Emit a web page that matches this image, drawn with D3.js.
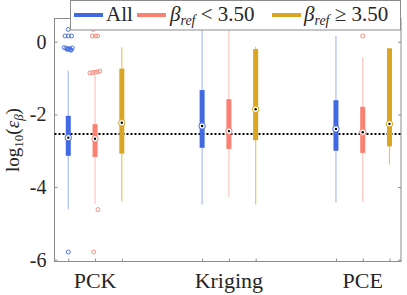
<!DOCTYPE html>
<html>
<head>
<meta charset="utf-8">
<script src="https://cdn.jsdelivr.net/npm/d3@7"></script>
<style>
  body { margin: 0; background: #fff; }
  svg { display: block; }
</style>
</head>
<body>
<div id="chart"></div>
<script>
// --- data (log10 of relative error) ---
var categories = ['PCK', 'Kriging', 'PCE'];
var seriesNames = ['All', 'lt', 'ge'];
var seriesColors = ['#4169E1', '#FA8072', '#DAA520'];
var yTicks = [0, -2, -4, -6];
var refLine = -2.54;

// per series, one value per category
var whiskerHigh = [[-0.80, 0.34, 0.16], [-0.92, 0.34, -0.43], [-0.15, -0.14, -0.18]];
var boxTop      = [[-2.04, -1.33, -1.61], [-2.27, -1.58, -1.79], [-0.74, -0.20, -0.18]];
var medians     = [[-2.64, -2.32, -2.40], [-2.67, -2.46, -2.49], [-2.23, -1.86, -2.26]];
var boxBottom   = [[-3.14, -2.92, -3.00], [-3.17, -2.95, -3.06], [-3.08, -2.71, -2.88]];
var whiskerLow  = [[-4.61, -4.48, -4.42], [-4.46, -4.27, -4.42], [-4.39, -4.48, -3.38]];

// outliers: [series, category, value, jitter]
var outliers = [
    [0, 0, 0.34, 0], [0, 0, 0.16, -0.12], [0, 0, 0.16, 0], [0, 0, 0.16, 0.12],
    [0, 0, -0.16, -0.15], [0, 0, -0.18, -0.08], [0, 0, -0.20, 0.0], [0, 0, -0.22, 0.08],
    [0, 0, -0.17, 0.15], [0, 0, -0.21, -0.04], [0, 0, -0.19, 0.05], [0, 0, -0.23, 0.11],
    [0, 0, -5.79, 0],
    [1, 0, 0.34, -0.07], [1, 0, 0.16, -0.1], [1, 0, 0.16, 0.02], [1, 0, 0.16, 0.1],
    [1, 0, -0.86, -0.19], [1, 0, -0.85, -0.09], [1, 0, -0.84, 0.0], [1, 0, -0.83, 0.09],
    [1, 0, -0.81, 0.18], [1, 0, -4.62, 0.11], [1, 0, -5.79, -0.05],
    [1, 2, 0.16, 0]
];

var totalWidth = 407, totalHeight = 295;
var axL = 54.5, axR = 401, axT = 18.5, axB = 261.5;
var serif = "'Liberation Serif', 'DejaVu Serif', serif";

var svg = d3.select('#chart').append('svg')
    .attr('width', totalWidth)
    .attr('height', totalHeight)
    .attr('font-family', serif);

// position of series s in category c: 1,2,3 / 6,7,8 / 11,12,13
function pos(c, s) { return c * 5 + s + 1; }

var xScale = d3.scaleLinear().domain([0.485, 13.43]).range([axL, axR]);
var yScale = d3.scaleLinear().domain([-6.05, 0.64]).range([axB, axT]);

var axisColor = '#8c8c8c';

// axes box
svg.append('rect')
    .attr('x', axL).attr('y', axT)
    .attr('width', axR - axL).attr('height', axB - axT)
    .attr('fill', 'none').attr('stroke', axisColor).attr('stroke-width', 1);

// y axis (left) and mirrored ticks on right
var yAxis = d3.axisLeft(yScale).tickValues(yTicks).tickSizeInner(-3).tickSizeOuter(0)
    .tickPadding(8);
var yAxisGroup = svg.append('g').attr('transform', 'translate(' + axL + ',0)').call(yAxis);
yAxisGroup.attr('font-family', serif);
yAxisGroup.select('.domain').remove();
yAxisGroup.selectAll('line').attr('stroke', axisColor);
yAxisGroup.selectAll('text').attr('font-size', 20).attr('fill', '#262626')
    .attr('x', -8).text(function(d) { return d === 0 ? '0' : '-' + Math.abs(d); });

var yAxisR = svg.append('g').attr('transform', 'translate(' + axR + ',0)')
    .call(d3.axisRight(yScale).tickValues(yTicks).tickSizeInner(-3).tickSizeOuter(0).tickFormat(''));
yAxisR.select('.domain').remove();
yAxisR.selectAll('line').attr('stroke', axisColor);

// x ticks at every box position
var tickPositions = [];
categories.forEach(function(c, ci) {
    seriesNames.forEach(function(s, si) { tickPositions.push(pos(ci, si)); });
});
var xAxisGroup = svg.append('g').attr('transform', 'translate(0,' + axB + ')')
    .call(d3.axisBottom(xScale).tickValues(tickPositions).tickSizeInner(-3).tickSizeOuter(0).tickFormat(''));
xAxisGroup.select('.domain').remove();
xAxisGroup.selectAll('line').attr('stroke', axisColor);

// category labels
svg.append('g').selectAll('text')
    .data(categories)
    .enter()
    .append('text')
    .attr('x', function(d, i) { return xScale(pos(i, 1)); })
    .attr('y', 288)
    .attr('text-anchor', 'middle')
    .attr('font-size', 22)
    .attr('fill', '#262626')
    .text(function(d) { return d; });

// reference dotted line
svg.append('line')
    .attr('x1', axL).attr('x2', axR)
    .attr('y1', yScale(refLine)).attr('y2', yScale(refLine))
    .attr('stroke', '#000').attr('stroke-width', 2).attr('stroke-dasharray', '2,2');

// boxes
var boxes = [];
seriesNames.forEach(function(s, si) {
    categories.forEach(function(c, ci) {
        boxes.push({
            s: si, c: ci,
            wl: whiskerLow[si][ci], q1: boxBottom[si][ci], med: medians[si][ci],
            q3: boxTop[si][ci], wh: whiskerHigh[si][ci]
        });
    });
});

var boxGroup = svg.append('g');
// whiskers
boxGroup.selectAll('line.whisker')
    .data(boxes)
    .enter()
    .append('line')
    .attr('class', 'whisker')
    .attr('x1', d => xScale(pos(d.c, d.s)))
    .attr('x2', d => xScale(pos(d.c, d.s)))
    .attr('y1', d => yScale(d.wl))
    .attr('y2', d => yScale(d.wh))
    .attr('stroke', d => seriesColors[d.s])
    .attr('stroke-opacity', d => d.s === 2 ? 0.65 : 0.45)
    .attr('stroke-width', 1.2);

// boxes
boxGroup.selectAll('rect.box')
    .data(boxes)
    .enter()
    .append('rect')
    .attr('class', 'box')
    .attr('x', d => xScale(pos(d.c, d.s)) - 2.5)
    .attr('width', 5)
    .attr('y', d => yScale(d.q3))
    .attr('height', d => yScale(d.q1) - yScale(d.q3))
    .attr('fill', d => seriesColors[d.s]);

// outliers
boxGroup.selectAll('circle.outlier')
    .data(outliers)
    .enter()
    .append('circle')
    .attr('class', 'outlier')
    .attr('cx', d => xScale(pos(d[1], d[0]) + d[3]))
    .attr('cy', d => yScale(d[2]))
    .attr('r', 2)
    .attr('fill', 'none')
    .attr('stroke', d => seriesColors[d[0]])
    .attr('stroke-width', 0.9);

// median markers
boxGroup.selectAll('circle.median')
    .data(boxes)
    .enter()
    .append('circle')
    .attr('class', 'median')
    .attr('cx', d => xScale(pos(d.c, d.s)))
    .attr('cy', d => yScale(d.med))
    .attr('r', 3.2)
    .attr('fill', '#fff')
    .attr('stroke', d => seriesColors[d.s])
    .attr('stroke-width', 1);
boxGroup.selectAll('circle.mdot')
    .data(boxes)
    .enter()
    .append('circle')
    .attr('class', 'mdot')
    .attr('cx', d => xScale(pos(d.c, d.s)))
    .attr('cy', d => yScale(d.med))
    .attr('r', 1.2)
    .attr('fill', '#000');

// y label
var yLabel = svg.append('text')
    .attr('transform', 'translate(18.5,' + ((axT + axB) / 2) + ') rotate(-90)')
    .attr('text-anchor', 'middle')
    .attr('fill', '#262626')
    .attr('font-size', 19);
yLabel.append('tspan').text('log');
yLabel.append('tspan').attr('font-size', 13).attr('dy', 4).text('10');
yLabel.append('tspan').attr('dy', -4).text('(');
yLabel.append('tspan').attr('font-style', 'italic').text('ε');
yLabel.append('tspan').attr('font-style', 'italic').attr('font-size', 13).attr('dy', 4).text('β');
yLabel.append('tspan').attr('dy', -4).text(')');

// legend
var legend = svg.append('g');
legend.append('rect')
    .attr('x', 70.5).attr('y', 0.5).attr('width', 330).attr('height', 29.5)
    .attr('fill', '#fff').attr('stroke', axisColor).attr('stroke-width', 1);

var legendItems = [
    { lineX: 74, textX: 106 },
    { lineX: 137, textX: 170 },
    { lineX: 272, textX: 304 }
];
legend.selectAll('line')
    .data(legendItems)
    .enter()
    .append('line')
    .attr('x1', d => d.lineX).attr('x2', d => d.lineX + 29)
    .attr('y1', 15).attr('y2', 15)
    .attr('stroke', (d, i) => seriesColors[i])
    .attr('stroke-width', 4);

legend.append('text').attr('x', legendItems[0].textX).attr('y', 21).attr('font-size', 21)
    .attr('fill', '#262626').text('All');

function betaLabel(x, rel) {
    var t = legend.append('text').attr('x', x).attr('y', 21).attr('font-size', 21).attr('fill', '#262626');
    t.append('tspan').attr('font-style', 'italic').text('β');
    t.append('tspan').attr('font-style', 'italic').attr('font-size', 14).attr('dy', 4).text('ref');
    t.append('tspan').attr('dy', -4).text(' ' + rel + ' 3.50');
}
betaLabel(legendItems[1].textX, '<');
betaLabel(legendItems[2].textX, '≥');
</script>
</body>
</html>
